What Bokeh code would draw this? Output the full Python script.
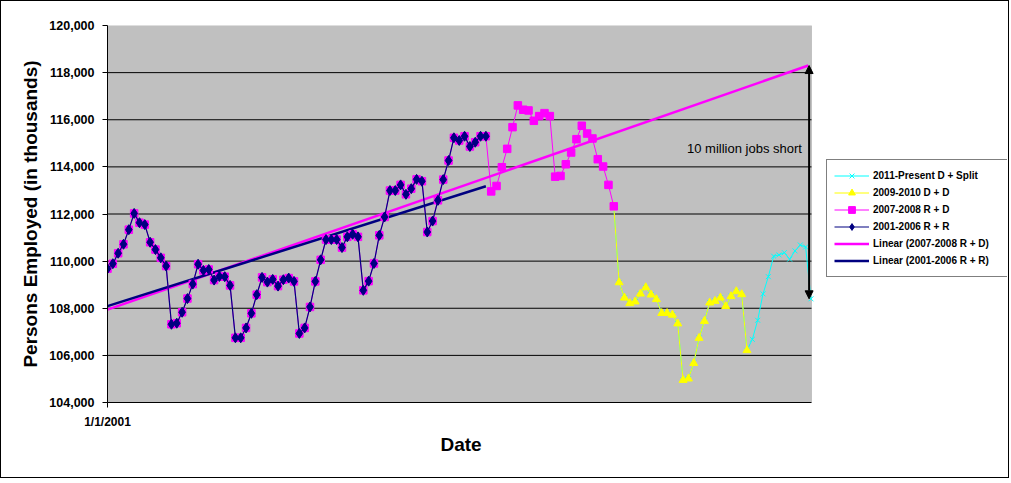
import numpy as np
from bokeh.plotting import figure
from bokeh.models import (Range1d, FixedTicker, NumeralTickFormatter, Legend, LegendItem,
                          Arrow, NormalHead, Label, BoxAnnotation, Title)
from bokeh.embed import file_html
from bokeh.resources import INLINE

# Monthly employment (thousands), month index 0 = Jan 2001
VALS_2001_2006 = [109680, 109890, 110335, 110715, 111335, 112025, 111630, 111550, 110800, 110490, 110140, 109790,
                  107320, 107365, 107830, 108410, 109025, 109870, 109605, 109645, 109195, 109350, 109340, 108970,
                  106745, 106745, 107165, 107785, 108575, 109310, 109110, 109225, 108940, 109210, 109280, 109140,
                  106930, 107165, 108055, 109140, 110055, 110915, 110915, 110915, 110575, 111030, 111140, 111030,
                  108760, 109150, 109900, 111095, 111875, 112995, 112995, 113235, 112835, 113075, 113470, 113390,
                  111235, 111700, 112580, 113460, 114270, 115235, 115120, 115300, 114865, 115045, 115300, 115300]
VALS_2007_2008 = [112960, 113190, 113985, 114765, 115685, 116610, 116425, 116395, 115955, 116155, 116280, 116155,
                  113585, 113615, 114110, 114610, 115175, 115745, 115415, 115205, 114325, 114015, 113235, 112325]
VALS_2009_2010 = [109095, 108445, 108210, 108280, 108615, 108885, 108575, 108380, 107790, 107790, 107720, 107350,
                  104950, 105010, 105670, 106735, 107455, 108235, 108305, 108445, 108085, 108505, 108715, 108590,
                  106215]
VALS_2011 = [106680, 107490, 108610, 109340, 110210, 110265, 110360, 110085, 110435, 110685, 110600, 108400]

LABELS = ["2011-Present D + Split", "2009-2010 D + D", "2007-2008 R + D", "2001-2006 R + R",
          "Linear (2007-2008 R + D)", "Linear (2001-2006 R + R)"]
X_TICK_LABEL = "1/1/2001"
X_TITLE = "Date"
Y_TITLE = "Persons Employed (in thousands)"
Y_MIN, Y_MAX = 104000, 120000
Y_TICKS = list(range(Y_MIN, Y_MAX + 1, 2000))
X_END = 132.1          # right edge of the plot area (months)
TREND_END = 131.5
ANNOT_TEXT = "10 million jobs short"

# series assembly
n_blue = len(VALS_2001_2006)
x_blue = np.arange(n_blue)
y_blue = np.array(VALS_2001_2006, dtype=float)

y_pink = np.array(VALS_2001_2006 + VALS_2007_2008, dtype=float)
x_pink = np.arange(len(y_pink))

start = len(y_pink) - 1
y_yellow = np.array([y_pink[-1]] + VALS_2009_2010, dtype=float)
x_yellow = np.arange(start, start + len(y_yellow))

y_cyan = np.array([y_pink[-1]] + VALS_2009_2010 + VALS_2011, dtype=float)
x_cyan = np.arange(start, start + len(y_cyan))

# linear trends
kp, bp = np.polyfit(x_pink, y_pink, 1)
kb, bb = np.polyfit(x_blue, y_blue, 1)
xt_pink = np.array([0, TREND_END])
xt_blue = np.array([0, n_blue - 1])

FONT = "Liberation Sans"

PLOT_W = 704
FRAME_W = 900
x_view_end = X_END * FRAME_W / PLOT_W   # frame extends right to hold the legend

p = figure(frame_width=FRAME_W, frame_height=377, output_backend="svg", toolbar_location=None,
           x_range=Range1d(0, x_view_end), y_range=Range1d(Y_MIN, Y_MAX),
           min_border_left=106, min_border_right=1, min_border_top=24, min_border_bottom=0,
           background_fill_color="white", border_fill_color="white")
p.styles = {"border": "1px solid black"}
p.outline_line_color = None
p.xgrid.visible = False
p.ygrid.visible = False

# plot area background
bg = BoxAnnotation(left=0, right=X_END, bottom=Y_MIN, top=Y_MAX, fill_color="#C0C0C0", fill_alpha=1,
                   line_color="#808080", line_width=1, level="underlay")
p.add_layout(bg)

# horizontal gridlines
grid_y = [t for t in Y_TICKS if Y_MIN < t < Y_MAX]
p.segment(x0=[0] * len(grid_y), x1=[X_END] * len(grid_y), y0=grid_y, y1=grid_y,
          line_color="black", line_width=1)

p.yaxis.ticker = FixedTicker(ticks=Y_TICKS)
p.yaxis.formatter = NumeralTickFormatter(format="0,0")
p.xaxis.ticker = FixedTicker(ticks=[0])
p.xaxis.major_label_overrides = {0: X_TICK_LABEL}
p.xaxis.bounds = (0, X_END)
for ax in (p.xaxis[0], p.yaxis[0]):
    ax.minor_tick_line_color = None
    ax.major_tick_in = 0
    ax.major_tick_out = 5
    ax.axis_line_color = "black"
    ax.major_tick_line_color = "black"
    ax.major_label_text_font = FONT
    ax.major_label_text_font_style = "bold"
    ax.major_label_text_font_size = "12px"
    ax.major_label_text_color = "black"
    ax.axis_label_text_font = FONT
    ax.axis_label_text_font_style = "bold"
    ax.axis_label_text_font_size = "19px"
    ax.axis_label_text_color = "black"
p.yaxis.major_label_text_font_size = "12.5px"
p.yaxis.major_label_standoff = 8
p.xaxis.major_label_standoff = 7
p.yaxis.axis_label = Y_TITLE
p.yaxis.axis_label_standoff = 5

# x-axis title placed under the middle of the plot area (frame is wider because of legend)
xt = Title(text=X_TITLE, align="left", offset=333,
           text_font=FONT, text_font_style="bold", text_font_size="19px", text_color="black",
           standoff=0)
p.add_layout(xt, "below")

# trend lines
r_tp = p.line(xt_pink, kp * xt_pink + bp, line_color="#FF00FF", line_width=2.5)
r_tb = p.line(xt_blue, kb * xt_blue + bb, line_color="#000080", line_width=2.5)

# series
r_cl = p.line(x_cyan, y_cyan, line_color="#00FFFF", line_width=1)
r_cm = p.scatter(x_cyan, y_cyan, marker="x", size=7, line_color="#00FFFF", line_width=1)
r_yl = p.line(x_yellow, y_yellow, line_color="#FFFF00", line_width=1)
r_ym = p.scatter(x_yellow, y_yellow, marker="triangle", size=8, fill_color="#FFFF00", line_color="#FFFF00")
r_pl = p.line(x_pink, y_pink, line_color="#FF00FF", line_width=1)
r_pm = p.scatter(x_pink, y_pink, marker="square", size=7.5, fill_color="#FF00FF", line_color="#FF00FF")
r_bl = p.line(x_blue, y_blue, line_color="#000080", line_width=1.2)
r_bm = p.scatter(x_blue, y_blue, marker="diamond", size=10, fill_color="#000080", line_color="#000080")

# arrow: from projected trend down to latest value
ax_x = TREND_END + 0.15
arrow = Arrow(start=NormalHead(size=8, fill_color="black", line_color="black"),
              end=NormalHead(size=8, fill_color="black", line_color="black"),
              x_start=ax_x, y_start=y_cyan[-1], x_end=ax_x, y_end=kp * TREND_END + bp,
              line_color="black", line_width=2)
p.add_layout(arrow)

lab = Label(x=130.3, y=114780, text=ANNOT_TEXT, text_align="right", text_baseline="middle",
            text_font=FONT, text_font_size="13px", text_color="black")
p.add_layout(lab)

legend = Legend(items=[
    LegendItem(label=LABELS[0], renderers=[r_cl, r_cm]),
    LegendItem(label=LABELS[1], renderers=[r_yl, r_ym]),
    LegendItem(label=LABELS[2], renderers=[r_pl, r_pm]),
    LegendItem(label=LABELS[3], renderers=[r_bl, r_bm]),
    LegendItem(label=LABELS[4], renderers=[r_tp]),
    LegendItem(label=LABELS[5], renderers=[r_tb]),
], location=(719, 125))
legend.padding = 7
legend.margin = 0
legend.spacing = 0
legend.glyph_width = 35
legend.glyph_height = 17
legend.label_height = 17
legend.label_width = 127
legend.label_standoff = 4
legend.label_text_font = FONT
legend.label_text_font_style = "bold"
legend.label_text_font_size = "10px"
legend.label_text_color = "black"
legend.border_line_color = "black"
legend.border_line_width = 1
legend.background_fill_color = "white"
legend.background_fill_alpha = 1
p.add_layout(legend)

# bottom spacer to give the overall chart its height
p.add_layout(Title(text=" ", text_font_size="19px", standoff=0), "below")

open("out.html", "w").write(file_html(p, INLINE))
